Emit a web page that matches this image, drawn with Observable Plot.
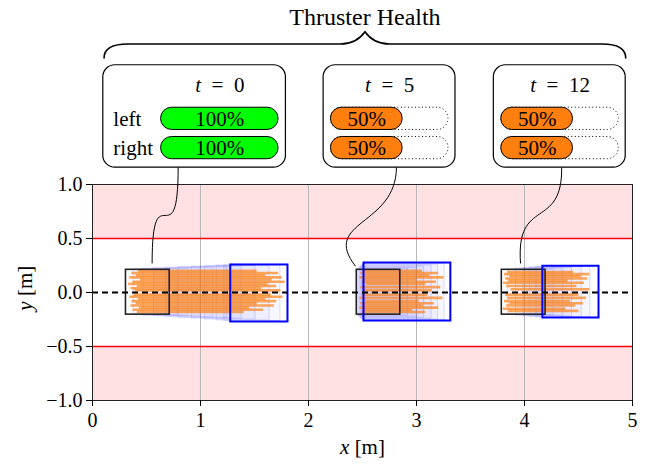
<!DOCTYPE html>
<html><head><meta charset="utf-8">
<script src="https://cdn.jsdelivr.net/npm/d3@7"></script>
<script src="https://cdn.jsdelivr.net/npm/@observablehq/plot@0.6"></script>
<style>body{margin:0;background:#fff}#chart{width:648px;height:464px}</style>
</head><body><div id="chart"></div>
<script>
// ---------- data ----------
const xTicks = [0, 1, 2, 3, 4, 5];
const yTicks = [-1, -0.5, 0, 0.5, 1];
const corridorLimit = 0.5;
const times = [0, 5, 12];
const leftHealth = [100, 50, 50];
const rightHealth = [100, 50, 50];

// start (black) and final (blue) robot footprints [x1, x2, y1, y2]
const startBoxes = [[0.31, 0.715, -0.205, 0.21], [2.447, 2.85, -0.205, 0.21], [3.79, 4.195, -0.205, 0.21]];
const endBoxes = [[1.28, 1.81, -0.273, 0.255], [2.514, 3.318, -0.264, 0.273], [4.17, 4.69, -0.236, 0.243]];
// intermediate predicted footprints
const midBoxes = [
  [0.38,0.79,-0.21,0.215],[0.47,0.89,-0.215,0.22],[0.57,1.00,-0.22,0.225],[0.68,1.12,-0.228,0.23],
  [0.80,1.25,-0.235,0.235],[0.92,1.38,-0.242,0.24],[1.04,1.51,-0.25,0.245],[1.15,1.64,-0.258,0.25],[1.22,1.74,-0.265,0.252],
  [2.46,2.92,-0.215,0.22],[2.47,3.00,-0.225,0.23],[2.48,3.07,-0.235,0.24],[2.49,3.14,-0.243,0.25],[2.50,3.20,-0.25,0.258],[2.505,3.26,-0.257,0.265],
  [3.85,4.27,-0.21,0.215],[3.92,4.36,-0.215,0.222],[3.99,4.44,-0.22,0.228],[4.05,4.53,-0.226,0.233],[4.11,4.61,-0.231,0.238]
];
// sampled trajectories [y, xStart, xEnd]
const trajectories = [
  [0.20,0.42,1.52],[0.18,0.36,1.72],[0.16,0.40,1.60],[0.14,0.34,1.75],[0.12,0.44,1.66],[0.10,0.37,1.78],
  [0.08,0.33,1.62],[0.06,0.41,1.70],[0.04,0.35,1.56],[0.02,0.39,1.74],[-0.02,0.38,1.65],[-0.04,0.34,1.76],
  [-0.06,0.42,1.60],[-0.08,0.36,1.70],[-0.10,0.40,1.52],[-0.12,0.35,1.68],[-0.14,0.43,1.45],[-0.16,0.37,1.58],[-0.18,0.41,1.40],
  [0.20,2.50,3.05],[0.18,2.48,3.20],[0.16,2.52,3.12],[0.14,2.47,3.25],[0.12,2.50,3.00],[0.10,2.49,3.18],
  [0.08,2.53,3.08],[0.05,2.48,3.22],[0.02,2.51,3.14],[-0.02,2.49,3.10],[-0.05,2.47,3.24],[-0.08,2.52,3.02],
  [-0.10,2.48,3.16],[-0.12,2.50,3.06],[-0.14,2.47,3.20],[-0.16,2.51,2.96],[-0.18,2.49,3.08],
  [0.19,3.84,4.45],[0.17,3.81,4.60],[0.15,3.86,4.52],[0.13,3.82,4.58],[0.11,3.85,4.40],[0.09,3.80,4.55],
  [0.06,3.83,4.48],[0.03,3.87,4.60],[-0.02,3.82,4.50],[-0.05,3.84,4.57],[-0.08,3.81,4.42],[-0.10,3.86,4.54],
  [-0.12,3.83,4.47],[-0.15,3.80,4.38],[-0.17,3.85,4.50]
];

// ---------- annotation layout (in axis units, drawn above the axes) ----------
const panelX1 = [0.100, 2.140, 3.716];
const panelX2 = [1.791, 3.361, 4.937];
const panelBottom = 1.156, panelTop = 2.104;
const barX1 = [0.635, 2.208, 3.785];
const barWidth = 1.088, barRadius = 0.12, barHalf = 0.103;
const rowY = [1.608, 1.337];
const rowNames = ["left", "right"];
const labelRowY = 1.921;
const titleY = 2.55;
// connector Bezier control points [x, y] for each panel
const connectors = [
  [[0.793,1.156],[0.793,0.273],[0.552,1.153],[0.552,0.273]],
  [[2.814,1.156],[2.814,0.616],[2.109,0.662],[2.434,0.245]],
  [[4.344,1.156],[4.353,0.569],[3.917,0.894],[3.963,0.273]]
];
// curly brace (quadratic chain: start, ctrl, end, ctrl, end ...)
const brace = [[0.107,2.171],[0.107,2.301],[0.329,2.301],[1.312,2.301],[2.295,2.301],[2.443,2.301],[2.523,2.415],
  [2.603,2.301],[2.751,2.301],[3.734,2.301],[4.717,2.301],[4.937,2.301],[4.937,2.171]];

// ---------- build tables ----------
const toRect = ([x1, x2, y1, y2]) => ({x1, x2, y1, y2});
const panels = times.map((t, i) => ({t, x1: panelX1[i], x2: panelX2[i], y1: panelBottom, y2: panelTop, cx: barX1[i] + barWidth / 2}));
const bars = [];
times.forEach((t, i) => {
  [leftHealth[i], rightHealth[i]].forEach((h, r) => {
    const x1 = barX1[i];
    const full = h >= 100;
    bars.push({x1, x2: x1 + barWidth, xf: full ? x1 + barWidth : x1 + barRadius + barWidth * h / 100,
      y1: rowY[r] - barHalf, y2: rowY[r] + barHalf, y: rowY[r], h, full});
  });
});
const connPts = connectors.flatMap((c, id) => c.map(([x, y]) => ({id, x, y})));
const bracePts = brace.map(([x, y]) => ({x, y}));
const trajSegs = trajectories.map(([y, a, b]) => ({y, x1: a, x2: b}));

function cubicCurve(context) {
  let pts;
  return {
    areaStart() {}, areaEnd() {},
    lineStart() { pts = []; },
    point(x, y) { pts.push([+x, +y]); },
    lineEnd() {
      if (!pts.length) return;
      context.moveTo(pts[0][0], pts[0][1]);
      for (let i = 1; i + 2 < pts.length; i += 3)
        context.bezierCurveTo(pts[i][0], pts[i][1], pts[i+1][0], pts[i+1][1], pts[i+2][0], pts[i+2][1]);
    }
  };
}
function quadCurve(context) {
  let pts;
  return {
    areaStart() {}, areaEnd() {},
    lineStart() { pts = []; },
    point(x, y) { pts.push([+x, +y]); },
    lineEnd() {
      if (!pts.length) return;
      context.moveTo(pts[0][0], pts[0][1]);
      for (let i = 1; i + 1 < pts.length; i += 2)
        context.quadraticCurveTo(pts[i][0], pts[i][1], pts[i+1][0], pts[i+1][1]);
    }
  };
}

const serif = "'Liberation Serif', 'DejaVu Serif', serif";
const chart = Plot.plot({
  width: 648, height: 464,
  marginLeft: 92, marginRight: 16, marginTop: 184, marginBottom: 64,
  style: {fontFamily: serif, fontSize: "20px", background: "white", color: "black", overflow: "visible"},
  x: {domain: [0, 5]},
  y: {domain: [-1, 1]},
  marks: [
    Plot.rect([{y1: corridorLimit, y2: 1}, {y1: -1, y2: -corridorLimit}], {y1: "y1", y2: "y2", fill: "#ffe1e4"}),
    Plot.gridX(xTicks, {stroke: "#b8b8b8", strokeOpacity: 1, strokeWidth: 1}),
    Plot.ruleY([corridorLimit, -corridorLimit], {stroke: "#ff0000", strokeWidth: 1.5}),
    Plot.rect(midBoxes.map(toRect), {x1: "x1", x2: "x2", y1: "y1", y2: "y2", fill: "#0000ff", fillOpacity: 0.03, stroke: "#0000ff", strokeOpacity: 0.14, strokeWidth: 1}),
    Plot.link(trajSegs, {x1: "x1", x2: "x2", y1: "y", y2: "y", stroke: "#ff7f0e", strokeOpacity: 0.68, strokeWidth: 2.6}),
    Plot.rect(startBoxes.map(toRect), {x1: "x1", x2: "x2", y1: "y1", y2: "y2", fill: "none", stroke: "#222", strokeWidth: 1.6}),
    Plot.rect(endBoxes.map(toRect), {x1: "x1", x2: "x2", y1: "y1", y2: "y2", fill: "none", stroke: "#0000ff", strokeWidth: 2}),
    Plot.ruleY([0], {stroke: "black", strokeWidth: 2, strokeDasharray: "6,4"}),
    Plot.frame({stroke: "#222", strokeWidth: 1}),
    Plot.axisX(xTicks, {tickFormat: d3.format("d"), tickSize: 6, tickPadding: 6, label: null, fontSize: 20}),
    Plot.axisY(yTicks, {tickFormat: d3.format(".1f"), tickSize: 6, tickPadding: 4, label: null, fontSize: 20}),
    Plot.text(["x [m]"], {x: 2.5, y: -1.435, text: d => d, fontSize: 21}),
    Plot.text(["y [m]"], {x: -0.62, y: 0.04, text: d => d, rotate: -90, fontSize: 21}),
    // annotations
    Plot.line(connPts, {x: "x", y: "y", z: "id", curve: cubicCurve, stroke: "black", strokeWidth: 1}),
    Plot.line(bracePts, {x: "x", y: "y", curve: quadCurve, stroke: "black", strokeWidth: 1.6}),
    Plot.text(["Thruster Health"], {x: 2.523, y: titleY, text: d => d, fontSize: 24}),
    Plot.rect(panels, {x1: "x1", x2: "x2", y1: "y1", y2: "y2", rx: 12, ry: 12, fill: "white", stroke: "black", strokeWidth: 1.2}),
    Plot.text(panels, {x: "cx", y: labelRowY, text: d => `t\u2002=\u2002${d.t}`, fontSize: 21}),
    Plot.text(rowNames, {x: panelX1[0] + 0.093, y: (d, i) => rowY[i], text: d => d, textAnchor: "start", fontSize: 21}),
    Plot.rect(bars.filter(b => !b.full), {x1: "x1", x2: "x2", y1: "y1", y2: "y2", rx: 11, ry: 11, fill: "none", stroke: "black", strokeWidth: 1, strokeDasharray: "1,2.5"}),
    Plot.rect(bars, {x1: "x1", x2: "xf", y1: "y1", y2: "y2", rx: 11, ry: 11, fill: d => d.full ? "#00ff00" : "#ff7f0e", stroke: "black", strokeWidth: 1}),
    Plot.text(bars, {x: d => (d.x1 + d.xf) / 2, y: "y", text: d => `${d.h}%`, fontSize: 21})
  ]
});
document.getElementById("chart").appendChild(chart);

// italic math letters
d3.select(chart).selectAll("text").each(function () {
  const s = this.textContent;
  const m = /^([xyt])([ \u2002].*)$/.exec(s);
  if (m && this.childElementCount === 0) {
    const el = d3.select(this);
    el.text(null);
    el.append("tspan").attr("font-style", "italic").text(m[1]);
    el.append("tspan").text(m[2]);
  }
});
</script>
</body></html>
